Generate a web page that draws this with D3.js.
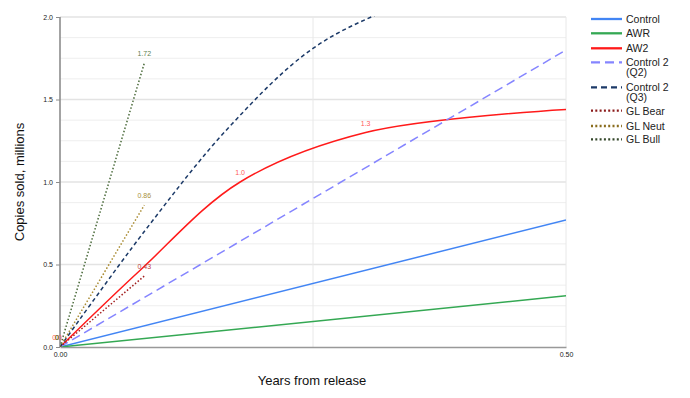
<!DOCTYPE html>
<html><head><meta charset="utf-8">
<script src="https://cdn.jsdelivr.net/npm/d3@7"></script>
<style>body{margin:0;background:#fff;font-family:Arial,"Liberation Sans",sans-serif}</style>
</head><body><svg id="c" width="690" height="398"></svg>
<script>
// ---- data ----
const linX = [0, 0.5];
const controlY = [0, 0.77];
const awrY = [0, 0.31];
const control2Q2Y = [0, 1.8];
const aw2X = [0, 0.08, 0.178, 0.302, 0.5];
const aw2Y = [0, 0.47, 1.0, 1.3, 1.44];
const aw2Labels = ["0.0", null, "1.0", "1.3", null];
const q3X = [0, 0.0833, 0.1667, 0.25, 0.3333, 0.4167, 0.5];
const q3Y = [0, 0.70, 1.33, 1.81, 2.07, 2.27, 2.42];
const glX = [0, 0.0833];
const glBearY = [0, 0.43];
const glNeutY = [0, 0.86];
const glBullY = [0, 1.72];
const glBearLabels = ["0", "0.43"];
const glNeutLabels = ["0", "0.86"];
const glBullLabels = ["0", "1.72"];
const yTicks = [0, 0.5, 1.0, 1.5, 2.0];
const yMinor = [0.125,0.25,0.375,0.625,0.75,0.875,1.125,1.25,1.375,1.625,1.75,1.875];
const xTicks = [0, 0.5];
const xGrid = [0.25, 0.5];

const series = [
  {name:["Control"], x:linX, y:controlY, color:"#4285f4", dash:null, w:1.5},
  {name:["AWR"], x:linX, y:awrY, color:"#34a853", dash:null, w:1.5},
  {name:["AW2"], x:aw2X, y:aw2Y, color:"#ff1a1a", dash:null, w:1.5, labels:aw2Labels, lc:"#ff5a5a", curve:true},
  {name:["Control 2","(Q2)"], x:linX, y:control2Q2Y, color:"#8585ff", dash:"9,5", w:1.5},
  {name:["Control 2","(Q3)"], x:q3X, y:q3Y, color:"#1c3a68", dash:"4,3", w:1.5, curve:true},
  {name:["GL Bear"], x:glX, y:glBearY, color:"#a31f1f", dash:"1.5,2", w:1.5, labels:glBearLabels, lc:"#c04040"},
  {name:["GL Neut"], x:glX, y:glNeutY, color:"#a8892e", dash:"1.5,2", w:1.5, labels:glNeutLabels, lc:"#a8903c"},
  {name:["GL Bull"], x:glX, y:glBullY, color:"#4a6a3a", dash:"1.5,2", w:1.5, labels:glBullLabels, lc:"#5e8050"}
];
const legendColors = ["#4285f4","#34a853","#ff1a1a","#8585ff","#1c3a68","#8b1a1a","#8a6d1e","#34472a"];

const svg = d3.select("#c");
const L=60, R=566, T=17, B=347;
const x = d3.scaleLinear().domain([0,0.5]).range([L,R]);
const y = d3.scaleLinear().domain([0,2]).range([B,T]);

// gridlines
svg.append("g").selectAll("line").data(yMinor).join("line")
  .attr("x1",L).attr("x2",R).attr("y1",d=>y(d)).attr("y2",d=>y(d))
  .attr("stroke","#eeeeee").attr("stroke-width",1);
svg.append("g").selectAll("line").data(yTicks.filter(d=>d>0)).join("line")
  .attr("x1",L).attr("x2",R).attr("y1",d=>y(d)).attr("y2",d=>y(d))
  .attr("stroke","#e3e3e3").attr("stroke-width",1.3);
svg.append("g").selectAll("line").data(xGrid).join("line")
  .attr("x1",d=>x(d)).attr("x2",d=>x(d)).attr("y1",T).attr("y2",B)
  .attr("stroke","#e8e8e8").attr("stroke-width",1);

// axes
const yAxis = svg.append("g").attr("transform",`translate(${L},0)`)
  .call(d3.axisLeft(y).tickValues(yTicks).tickFormat(d3.format(".1f")).tickSize(4).tickPadding(3));
yAxis.select(".domain").attr("stroke","#8c8c8c").attr("stroke-width",1.6).attr("d",`M0,${T}V${B}`);
yAxis.selectAll(".tick line").attr("stroke","#8c8c8c");
yAxis.selectAll("text").attr("font-size",7).attr("fill","#222").attr("font-family","Arial,'Liberation Sans',sans-serif");

const xAxis = svg.append("g").attr("transform",`translate(0,${B})`)
  .call(d3.axisBottom(x).tickValues(xTicks).tickFormat(d3.format(".2f")).tickSize(0).tickPadding(5));
xAxis.select(".domain").attr("stroke","#999").attr("stroke-width",1.3);
xAxis.selectAll("text").attr("font-size",7).attr("fill","#222").attr("font-family","Arial,'Liberation Sans',sans-serif");

// clip
svg.append("clipPath").attr("id","clip").append("rect").attr("x",L).attr("y",T-1).attr("width",R-L).attr("height",B-T+1);
const plot = svg.append("g").attr("clip-path","url(#clip)");

series.forEach(s=>{
  const pts = s.x.map((v,i)=>[v,s.y[i]]);
  const line = d3.line().x(d=>x(d[0])).y(d=>y(d[1])).curve(s.curve? d3.curveCatmullRom.alpha(0.5) : d3.curveLinear);
  plot.append("path").attr("d",line(pts)).attr("fill","none")
    .attr("stroke",s.color).attr("stroke-width",s.w)
    .attr("stroke-dasharray",s.dash);
});

// data labels
series.forEach(s=>{
  if(!s.labels) return;
  s.labels.forEach((lab,i)=>{
    if(lab===null) return;
    const px=x(s.x[i]), py=y(s.y[i]);
    const isOrigin = s.x[i]===0;
    svg.append("text").attr("x", isOrigin? px-3 : px).attr("y", py-7)
      .attr("text-anchor","middle").attr("font-size",7).attr("fill",s.lc)
      .attr("font-family","Arial,'Liberation Sans',sans-serif").text(lab);
  });
});

// axis titles
svg.append("text").attr("transform","translate(24,182) rotate(-90)")
  .attr("text-anchor","middle").attr("font-size",13).attr("fill","#111").text("Copies sold, millions");
svg.append("text").attr("x",312).attr("y",385).attr("text-anchor","middle")
  .attr("font-size",13).attr("fill","#111").text("Years from release");

// legend
const legY = [19, 33.3, 48.3, 62.3, 87.3, 110.7, 126, 139.3];
const lg = svg.append("g");
series.forEach((s,i)=>{
  const yy = legY[i];
  lg.append("line").attr("x1",591).attr("x2",622).attr("y1",yy).attr("y2",yy)
    .attr("stroke",legendColors[i]).attr("stroke-width",2.3)
    .attr("stroke-dasharray", s.dash ? (s.dash==="9,5"?"9,5": s.dash==="4,3"?"6,4":"2,2.3") : null);
  s.name.forEach((n,j)=>{
    lg.append("text").attr("x",626).attr("y",yy+3.8+j*9.6).attr("font-size",10.5)
      .attr("fill","#222").text(n);
  });
});
</script></body></html>
